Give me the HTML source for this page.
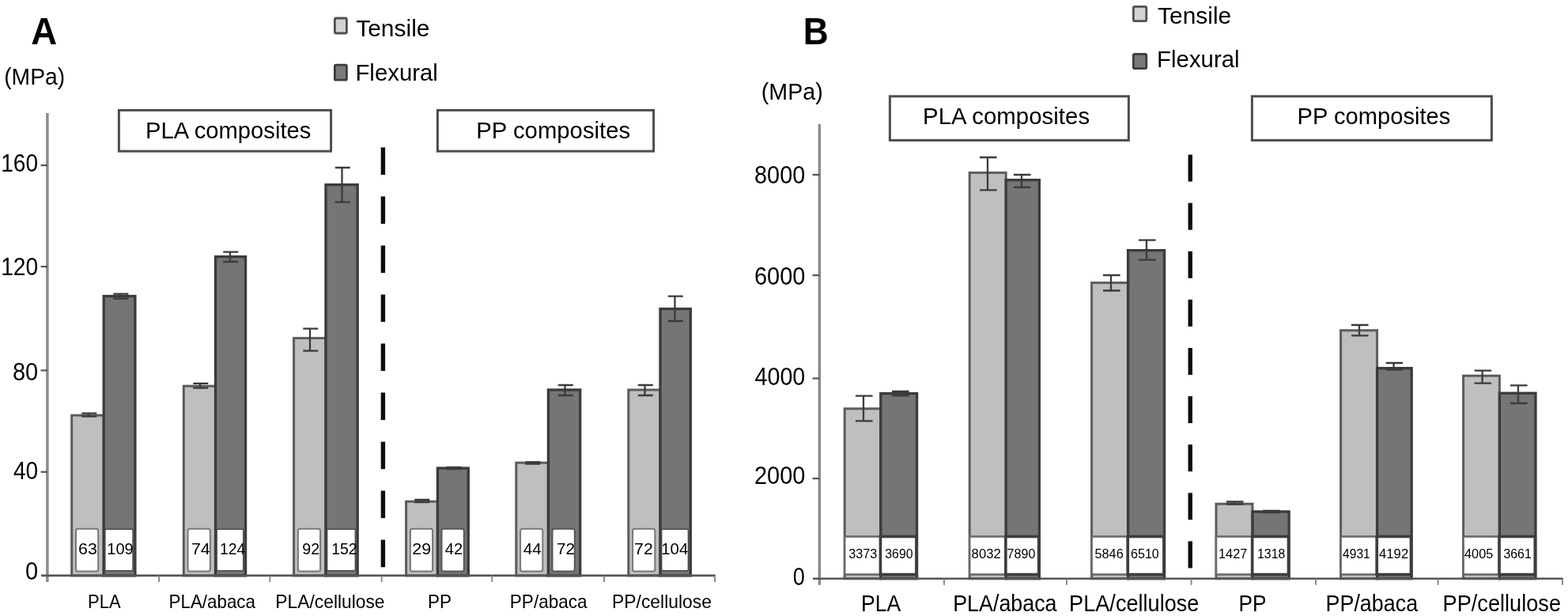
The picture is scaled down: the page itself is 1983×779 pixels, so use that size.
<!DOCTYPE html>
<html lang="en">
<head>
<meta charset="utf-8">
<title>Tensile and flexural properties of PLA and PP composites</title>
<style>
html,body{margin:0;padding:0;background:#fff;}
body{width:1983px;height:779px;overflow:hidden;}
svg{display:block;}
svg text{font-family:"Liberation Sans",Arial,Helvetica,sans-serif;fill:#000;}
</style>
</head>
<body>
<svg width="1983" height="779" viewBox="0 0 1983 779" role="img" aria-label="Bar charts of tensile and flexural strength (A) and modulus (B) in MPa">
<defs><filter id="soft" x="0" y="0" width="1983" height="779" filterUnits="userSpaceOnUse"><feGaussianBlur stdDeviation="0.75"/></filter><filter id="softt" x="0" y="0" width="1983" height="779" filterUnits="userSpaceOnUse"><feGaussianBlur stdDeviation="0.5"/></filter></defs>
<rect x="0" y="0" width="1983" height="779" fill="#fff"/>
<g id="shapes" filter="url(#soft)">
<line x1="59.9" y1="143" x2="59.9" y2="735.9" stroke="#8a8a8a" stroke-width="3.5"/>
<line x1="51.6" y1="596.8" x2="59.9" y2="596.8" stroke="#555555" stroke-width="2.2"/>
<line x1="51.6" y1="468.4" x2="59.9" y2="468.4" stroke="#555555" stroke-width="2.2"/>
<line x1="51.6" y1="337.2" x2="59.9" y2="337.2" stroke="#555555" stroke-width="2.2"/>
<line x1="51.6" y1="209.1" x2="59.9" y2="209.1" stroke="#555555" stroke-width="2.2"/>
<rect x="90.7" y="525.2" width="40.5" height="202.7" fill="#bebfbe" stroke="#5c5c5c" stroke-width="3.0"/>
<rect x="131.2" y="374.5" width="39.7" height="353.4" fill="#747474" stroke="#3a3a3a" stroke-width="3.3"/>
<rect x="96.0" y="668.8" width="28.2" height="53.6" rx="2.5" fill="#fff" stroke="#777" stroke-width="2"/>
<rect x="132.8" y="669.2" width="35.3" height="52.6" rx="1.5" fill="#fff" stroke="#4a4a4a" stroke-width="1.6"/>
<rect x="232.3" y="488.2" width="40.2" height="239.7" fill="#bebfbe" stroke="#5c5c5c" stroke-width="3.0"/>
<rect x="272.5" y="324.6" width="38.1" height="403.3" fill="#747474" stroke="#3a3a3a" stroke-width="3.3"/>
<rect x="237.6" y="668.8" width="28.2" height="53.6" rx="2.5" fill="#fff" stroke="#777" stroke-width="2"/>
<rect x="274.1" y="669.2" width="33.7" height="52.6" rx="1.5" fill="#fff" stroke="#4a4a4a" stroke-width="1.6"/>
<rect x="371.6" y="427.6" width="40.4" height="300.3" fill="#bebfbe" stroke="#5c5c5c" stroke-width="3.0"/>
<rect x="412.0" y="233.6" width="40.2" height="494.3" fill="#747474" stroke="#3a3a3a" stroke-width="3.3"/>
<rect x="376.9" y="668.8" width="28.2" height="53.6" rx="2.5" fill="#fff" stroke="#777" stroke-width="2"/>
<rect x="413.6" y="669.2" width="35.8" height="52.6" rx="1.5" fill="#fff" stroke="#4a4a4a" stroke-width="1.6"/>
<rect x="513.6" y="634.2" width="39.8" height="93.7" fill="#bebfbe" stroke="#5c5c5c" stroke-width="3.0"/>
<rect x="553.4" y="592.0" width="38.9" height="135.9" fill="#747474" stroke="#3a3a3a" stroke-width="3.3"/>
<rect x="518.9" y="668.8" width="28.2" height="53.6" rx="2.5" fill="#fff" stroke="#777" stroke-width="2"/>
<rect x="558.5" y="668.8" width="28.3" height="53.6" rx="2.5" fill="#fff" stroke="#565656" stroke-width="2"/>
<rect x="652.8" y="585.2" width="40.6" height="142.7" fill="#bebfbe" stroke="#5c5c5c" stroke-width="3.0"/>
<rect x="693.4" y="493.0" width="40.3" height="234.9" fill="#747474" stroke="#3a3a3a" stroke-width="3.3"/>
<rect x="658.1" y="668.8" width="28.2" height="53.6" rx="2.5" fill="#fff" stroke="#777" stroke-width="2"/>
<rect x="698.5" y="668.8" width="28.3" height="53.6" rx="2.5" fill="#fff" stroke="#565656" stroke-width="2"/>
<rect x="794.8" y="493.0" width="40.2" height="234.9" fill="#bebfbe" stroke="#5c5c5c" stroke-width="3.0"/>
<rect x="835.0" y="390.6" width="38.3" height="337.3" fill="#747474" stroke="#3a3a3a" stroke-width="3.3"/>
<rect x="800.1" y="668.8" width="28.2" height="53.6" rx="2.5" fill="#fff" stroke="#777" stroke-width="2"/>
<rect x="836.6" y="669.2" width="33.9" height="52.6" rx="1.5" fill="#fff" stroke="#4a4a4a" stroke-width="1.6"/>
<path d="M103.3 522.6H122.3M103.3 526.6H122.3M112 522.6V526.6" stroke="#3a3a3a" stroke-width="2.3" fill="none"/>
<path d="M143.3 371.6H162.3M143.3 377.6H162.3M152 371.6V377.6" stroke="#3a3a3a" stroke-width="2.3" fill="none"/>
<path d="M244.3 484.8H263.3M244.3 490.6H263.3M253 484.8V490.6" stroke="#3a3a3a" stroke-width="2.3" fill="none"/>
<path d="M282.3 318.6H301.3M282.3 331H301.3M291 318.6V331" stroke="#3a3a3a" stroke-width="2.3" fill="none"/>
<path d="M383.3 415.6H402.3M383.3 443.6H402.3M392 415.6V443.6" stroke="#3a3a3a" stroke-width="2.3" fill="none"/>
<path d="M423.8 212H442.8M423.8 255.6H442.8M432.5 212V255.6" stroke="#3a3a3a" stroke-width="2.3" fill="none"/>
<path d="M524.3 632H543.3M524.3 635H543.3M533 632V635" stroke="#3a3a3a" stroke-width="2.3" fill="none"/>
<path d="M564.3 591H583.3M564.3 593H583.3M573 591V593" stroke="#3a3a3a" stroke-width="2.3" fill="none"/>
<path d="M664.3 584.5H683.3M664.3 586.5H683.3M673 584.5V586.5" stroke="#3a3a3a" stroke-width="2.3" fill="none"/>
<path d="M705.8 487H724.8M705.8 500H724.8M714.5 487V500" stroke="#3a3a3a" stroke-width="2.3" fill="none"/>
<path d="M806.8 487H825.8M806.8 500H825.8M815.5 487V500" stroke="#3a3a3a" stroke-width="2.3" fill="none"/>
<path d="M844.8 374.6H863.8M844.8 406H863.8M853.5 374.6V406" stroke="#3a3a3a" stroke-width="2.3" fill="none"/>
<line x1="52" y1="727.9" x2="905" y2="727.9" stroke="#555555" stroke-width="2.6"/>
<line x1="201" y1="727.9" x2="201" y2="735.9" stroke="#8a8a8a" stroke-width="2"/>
<line x1="341.3" y1="727.9" x2="341.3" y2="735.9" stroke="#8a8a8a" stroke-width="2"/>
<line x1="482.7" y1="727.9" x2="482.7" y2="735.9" stroke="#8a8a8a" stroke-width="2"/>
<line x1="622.3" y1="727.9" x2="622.3" y2="735.9" stroke="#8a8a8a" stroke-width="2"/>
<line x1="764" y1="727.9" x2="764" y2="735.9" stroke="#8a8a8a" stroke-width="2"/>
<line x1="904" y1="727.9" x2="904" y2="735.9" stroke="#8a8a8a" stroke-width="2"/>
<rect x="481.7" y="186.4" width="5.4" height="34.6" fill="#0c0c0c"/>
<rect x="481.7" y="248.4" width="5.4" height="34.6" fill="#0c0c0c"/>
<rect x="481.7" y="310.5" width="5.4" height="34.6" fill="#0c0c0c"/>
<rect x="481.7" y="372.5" width="5.4" height="34.6" fill="#0c0c0c"/>
<rect x="481.7" y="434.5" width="5.4" height="34.6" fill="#0c0c0c"/>
<rect x="481.7" y="496.5" width="5.4" height="34.6" fill="#0c0c0c"/>
<rect x="481.7" y="558.6" width="5.4" height="34.6" fill="#0c0c0c"/>
<rect x="481.7" y="620.6" width="5.4" height="34.6" fill="#0c0c0c"/>
<rect x="481.7" y="682.6" width="5.4" height="34.6" fill="#0c0c0c"/>
<rect x="150.4" y="139.4" width="268.2" height="51.8" fill="#fff" stroke="#4e4e4e" stroke-width="3"/>
<rect x="553.4" y="139.4" width="273.2" height="51.8" fill="#fff" stroke="#4e4e4e" stroke-width="3"/>
<rect x="423.4" y="23" width="15" height="19" rx="1.5" fill="#d2d2d2" stroke="#505050" stroke-width="2.8"/>
<rect x="423.4" y="82.2" width="15" height="19" rx="1.5" fill="#7a7a7a" stroke="#3c3c3c" stroke-width="2.8"/>
<line x1="1036.4" y1="157" x2="1036.4" y2="739.8" stroke="#8a8a8a" stroke-width="3.5"/>
<line x1="1027.5" y1="605.1" x2="1036.4" y2="605.1" stroke="#555555" stroke-width="2.2"/>
<line x1="1027.5" y1="478.5" x2="1036.4" y2="478.5" stroke="#555555" stroke-width="2.2"/>
<line x1="1027.5" y1="348.1" x2="1036.4" y2="348.1" stroke="#555555" stroke-width="2.2"/>
<line x1="1027.5" y1="221.0" x2="1036.4" y2="221.0" stroke="#555555" stroke-width="2.2"/>
<rect x="1068.2" y="516.8" width="45.6" height="215.0" fill="#bebfbe" stroke="#5c5c5c" stroke-width="3.0"/>
<rect x="1113.8" y="497.6" width="45.8" height="234.2" fill="#747474" stroke="#3a3a3a" stroke-width="3.3"/>
<rect x="1068.2" y="678.5" width="45.0" height="48" fill="#fff" stroke="#6a6a6a" stroke-width="2.6"/>
<rect x="1113.5" y="678.5" width="45.4" height="48" fill="#fff" stroke="#3c3c3c" stroke-width="3.6"/>
<rect x="1226.2" y="218.4" width="46.0" height="513.4" fill="#bebfbe" stroke="#5c5c5c" stroke-width="3.0"/>
<rect x="1272.2" y="227.6" width="42.2" height="504.2" fill="#747474" stroke="#3a3a3a" stroke-width="3.3"/>
<rect x="1226.2" y="678.5" width="45.4" height="48" fill="#fff" stroke="#6a6a6a" stroke-width="2.6"/>
<rect x="1271.9" y="678.5" width="41.8" height="48" fill="#fff" stroke="#3c3c3c" stroke-width="3.6"/>
<rect x="1380.6" y="357.6" width="46.0" height="374.2" fill="#bebfbe" stroke="#5c5c5c" stroke-width="3.0"/>
<rect x="1426.6" y="316.6" width="46.0" height="415.2" fill="#747474" stroke="#3a3a3a" stroke-width="3.3"/>
<rect x="1380.6" y="678.5" width="45.4" height="48" fill="#fff" stroke="#6a6a6a" stroke-width="2.6"/>
<rect x="1426.3" y="678.5" width="45.6" height="48" fill="#fff" stroke="#3c3c3c" stroke-width="3.6"/>
<rect x="1538.0" y="637.2" width="46.0" height="94.6" fill="#bebfbe" stroke="#5c5c5c" stroke-width="3.0"/>
<rect x="1584.0" y="647.0" width="46.2" height="84.8" fill="#747474" stroke="#3a3a3a" stroke-width="3.3"/>
<rect x="1538.0" y="678.5" width="45.4" height="48" fill="#fff" stroke="#6a6a6a" stroke-width="2.6"/>
<rect x="1583.7" y="678.5" width="45.8" height="48" fill="#fff" stroke="#3c3c3c" stroke-width="3.6"/>
<rect x="1695.6" y="417.8" width="46.0" height="314.0" fill="#bebfbe" stroke="#5c5c5c" stroke-width="3.0"/>
<rect x="1741.6" y="465.6" width="43.6" height="266.2" fill="#747474" stroke="#3a3a3a" stroke-width="3.3"/>
<rect x="1695.6" y="678.5" width="45.4" height="48" fill="#fff" stroke="#6a6a6a" stroke-width="2.6"/>
<rect x="1741.3" y="678.5" width="43.2" height="48" fill="#fff" stroke="#3c3c3c" stroke-width="3.6"/>
<rect x="1850.6" y="475.2" width="45.8" height="256.6" fill="#bebfbe" stroke="#5c5c5c" stroke-width="3.0"/>
<rect x="1896.4" y="497.2" width="45.6" height="234.6" fill="#747474" stroke="#3a3a3a" stroke-width="3.3"/>
<rect x="1850.6" y="678.5" width="45.2" height="48" fill="#fff" stroke="#6a6a6a" stroke-width="2.6"/>
<rect x="1896.1" y="678.5" width="45.2" height="48" fill="#fff" stroke="#3c3c3c" stroke-width="3.6"/>
<path d="M1082.0 500.6H1103.6M1082.0 532.4H1103.6M1092 500.6V532.4" stroke="#3a3a3a" stroke-width="2.3" fill="none"/>
<path d="M1128.0 495H1149.6M1128.0 500.4H1149.6M1138 495V500.4" stroke="#3a3a3a" stroke-width="2.3" fill="none"/>
<path d="M1239.0 199H1260.6M1239.0 240.4H1260.6M1249 199V240.4" stroke="#3a3a3a" stroke-width="2.3" fill="none"/>
<path d="M1282.0 221H1303.6M1282.0 236.8H1303.6M1292 221V236.8" stroke="#3a3a3a" stroke-width="2.3" fill="none"/>
<path d="M1395.0 348H1416.6M1395.0 367.5H1416.6M1405 348V367.5" stroke="#3a3a3a" stroke-width="2.3" fill="none"/>
<path d="M1440.0 303.6H1461.6M1440.0 328.6H1461.6M1450 303.6V328.6" stroke="#3a3a3a" stroke-width="2.3" fill="none"/>
<path d="M1551.0 634.5H1572.6M1551.0 637.5H1572.6M1561 634.5V637.5" stroke="#3a3a3a" stroke-width="2.3" fill="none"/>
<path d="M1597.0 646H1618.6M1597.0 648H1618.6M1607 646V648" stroke="#3a3a3a" stroke-width="2.3" fill="none"/>
<path d="M1709.0 411H1730.6M1709.0 424.4H1730.6M1719 411V424.4" stroke="#3a3a3a" stroke-width="2.3" fill="none"/>
<path d="M1752.6 459H1774.2M1752.6 467.6H1774.2M1762.6 459V467.6" stroke="#3a3a3a" stroke-width="2.3" fill="none"/>
<path d="M1864.6 468.6H1886.2M1864.6 484.6H1886.2M1874.6 468.6V484.6" stroke="#3a3a3a" stroke-width="2.3" fill="none"/>
<path d="M1910.0 487.4H1931.6M1910.0 510H1931.6M1920 487.4V510" stroke="#3a3a3a" stroke-width="2.3" fill="none"/>
<line x1="1028" y1="731.8" x2="1977" y2="731.8" stroke="#555555" stroke-width="2.6"/>
<line x1="1194" y1="731.8" x2="1194" y2="739.8" stroke="#8a8a8a" stroke-width="2"/>
<line x1="1349" y1="731.8" x2="1349" y2="739.8" stroke="#8a8a8a" stroke-width="2"/>
<line x1="1506.6" y1="731.8" x2="1506.6" y2="739.8" stroke="#8a8a8a" stroke-width="2"/>
<line x1="1664" y1="731.8" x2="1664" y2="739.8" stroke="#8a8a8a" stroke-width="2"/>
<line x1="1818.6" y1="731.8" x2="1818.6" y2="739.8" stroke="#8a8a8a" stroke-width="2"/>
<line x1="1976" y1="731.8" x2="1976" y2="739.8" stroke="#8a8a8a" stroke-width="2"/>
<rect x="1502.6" y="195.6" width="5.4" height="34" fill="#0c0c0c"/>
<rect x="1502.6" y="256.7" width="5.4" height="34" fill="#0c0c0c"/>
<rect x="1502.6" y="317.8" width="5.4" height="34" fill="#0c0c0c"/>
<rect x="1502.6" y="378.9" width="5.4" height="34" fill="#0c0c0c"/>
<rect x="1502.6" y="440.0" width="5.4" height="34" fill="#0c0c0c"/>
<rect x="1502.6" y="501.1" width="5.4" height="34" fill="#0c0c0c"/>
<rect x="1502.6" y="562.2" width="5.4" height="34" fill="#0c0c0c"/>
<rect x="1502.6" y="623.3" width="5.4" height="34" fill="#0c0c0c"/>
<rect x="1502.6" y="684.4" width="5.4" height="34" fill="#0c0c0c"/>
<rect x="1125.4" y="121.8" width="302" height="55.6" fill="#fff" stroke="#4e4e4e" stroke-width="3"/>
<rect x="1583.4" y="121.8" width="303" height="55.6" fill="#fff" stroke="#4e4e4e" stroke-width="3"/>
<rect x="1433.4" y="8.4" width="16.4" height="18.2" rx="1.5" fill="#d2d2d2" stroke="#505050" stroke-width="2.8"/>
<rect x="1433.4" y="68.4" width="16.4" height="18.2" rx="1.5" fill="#7a7a7a" stroke="#3c3c3c" stroke-width="2.8"/>
</g>
<g id="labels" filter="url(#softt)">
<text x="32.06" y="733.0" font-size="31" textLength="16.16" lengthAdjust="spacingAndGlyphs">0</text>
<text x="17.00" y="606.4" font-size="31" textLength="31.22" lengthAdjust="spacingAndGlyphs">40</text>
<text x="15.96" y="481.0" font-size="31" textLength="32.26" lengthAdjust="spacingAndGlyphs">80</text>
<text x="1.18" y="347.6" font-size="31" textLength="47.04" lengthAdjust="spacingAndGlyphs">120</text>
<text x="1.29" y="217.0" font-size="31" textLength="46.72" lengthAdjust="spacingAndGlyphs">160</text>
<text x="99.03" y="700.6" font-size="20" textLength="23.80" lengthAdjust="spacingAndGlyphs">63</text>
<text x="135.30" y="700.6" font-size="20" textLength="33.42" lengthAdjust="spacingAndGlyphs">109</text>
<text x="241.93" y="700.6" font-size="20" textLength="23.80" lengthAdjust="spacingAndGlyphs">74</text>
<text x="277.93" y="700.6" font-size="20" textLength="32.49" lengthAdjust="spacingAndGlyphs">124</text>
<text x="382.20" y="700.6" font-size="20" textLength="21.92" lengthAdjust="spacingAndGlyphs">92</text>
<text x="419.13" y="700.6" font-size="20" textLength="32.49" lengthAdjust="spacingAndGlyphs">152</text>
<text x="521.22" y="700.6" font-size="20" textLength="24.01" lengthAdjust="spacingAndGlyphs">29</text>
<text x="562.70" y="700.6" font-size="20" textLength="22.42" lengthAdjust="spacingAndGlyphs">42</text>
<text x="661.70" y="700.6" font-size="20" textLength="22.93" lengthAdjust="spacingAndGlyphs">44</text>
<text x="703.97" y="700.6" font-size="20" textLength="22.96" lengthAdjust="spacingAndGlyphs">72</text>
<text x="802.03" y="700.6" font-size="20" textLength="23.80" lengthAdjust="spacingAndGlyphs">72</text>
<text x="836.28" y="700.6" font-size="20" textLength="34.05" lengthAdjust="spacingAndGlyphs">104</text>
<text x="111.06" y="769.0" font-size="23.4" textLength="41.57" lengthAdjust="spacingAndGlyphs">PLA</text>
<text x="213.54" y="769.0" font-size="23.4" textLength="109.41" lengthAdjust="spacingAndGlyphs">PLA/abaca</text>
<text x="348.32" y="769.0" font-size="23.4" textLength="138.26" lengthAdjust="spacingAndGlyphs">PLA/cellulose</text>
<text x="541.04" y="769.0" font-size="23.4" textLength="29.94" lengthAdjust="spacingAndGlyphs">PP</text>
<text x="644.84" y="769.0" font-size="23.4" textLength="97.81" lengthAdjust="spacingAndGlyphs">PP/abaca</text>
<text x="774.02" y="769.0" font-size="23.4" textLength="125.97" lengthAdjust="spacingAndGlyphs">PP/cellulose</text>
<text x="183.99" y="175" font-size="30.3" textLength="209.35" lengthAdjust="spacingAndGlyphs">PLA composites</text>
<text x="602.27" y="175" font-size="30.3" textLength="194.87" lengthAdjust="spacingAndGlyphs">PP composites</text>
<text x="450.20" y="45.9" font-size="30" textLength="93.28" lengthAdjust="spacingAndGlyphs">Tensile</text>
<text x="449.44" y="102.2" font-size="30" textLength="104.39" lengthAdjust="spacingAndGlyphs">Flexural</text>
<text x="39.25" y="56" font-size="48.2" font-weight="bold" textLength="32.90" lengthAdjust="spacingAndGlyphs">A</text>
<text x="5.16" y="106.8" font-size="30" textLength="76.98" lengthAdjust="spacingAndGlyphs">(MPa)</text>
<text x="1002.73" y="740.0" font-size="31" textLength="15.09" lengthAdjust="spacingAndGlyphs">0</text>
<text x="953.97" y="612.1" font-size="31" textLength="64.36" lengthAdjust="spacingAndGlyphs">2000</text>
<text x="954.50" y="486.9" font-size="31" textLength="63.82" lengthAdjust="spacingAndGlyphs">4000</text>
<text x="953.97" y="359.9" font-size="31" textLength="64.36" lengthAdjust="spacingAndGlyphs">6000</text>
<text x="954.07" y="232.4" font-size="31" textLength="64.15" lengthAdjust="spacingAndGlyphs">8000</text>
<text x="1073.30" y="705.8" font-size="15.8" textLength="36.08" lengthAdjust="spacingAndGlyphs">3373</text>
<text x="1119.30" y="705.8" font-size="15.8" textLength="35.28" lengthAdjust="spacingAndGlyphs">3690</text>
<text x="1228.60" y="705.8" font-size="15.8" textLength="37.23" lengthAdjust="spacingAndGlyphs">8032</text>
<text x="1273.60" y="705.8" font-size="15.8" textLength="35.78" lengthAdjust="spacingAndGlyphs">7890</text>
<text x="1384.40" y="705.8" font-size="15.8" textLength="36.38" lengthAdjust="spacingAndGlyphs">5846</text>
<text x="1430.00" y="705.8" font-size="15.8" textLength="35.78" lengthAdjust="spacingAndGlyphs">6510</text>
<text x="1540.96" y="705.8" font-size="15.8" textLength="36.45" lengthAdjust="spacingAndGlyphs">1427</text>
<text x="1589.99" y="705.8" font-size="15.8" textLength="35.39" lengthAdjust="spacingAndGlyphs">1318</text>
<text x="1698.00" y="705.8" font-size="15.8" textLength="34.79" lengthAdjust="spacingAndGlyphs">4931</text>
<text x="1744.00" y="705.8" font-size="15.8" textLength="37.23" lengthAdjust="spacingAndGlyphs">4192</text>
<text x="1852.00" y="705.8" font-size="15.8" textLength="36.38" lengthAdjust="spacingAndGlyphs">4005</text>
<text x="1901.40" y="705.8" font-size="15.8" textLength="35.38" lengthAdjust="spacingAndGlyphs">3661</text>
<text x="1088.94" y="772.5" font-size="28.6" textLength="50.20" lengthAdjust="spacingAndGlyphs">PLA</text>
<text x="1205.22" y="772.5" font-size="28.6" textLength="131.29" lengthAdjust="spacingAndGlyphs">PLA/abaca</text>
<text x="1352.10" y="772.5" font-size="28.6" textLength="164.35" lengthAdjust="spacingAndGlyphs">PLA/cellulose</text>
<text x="1566.56" y="772.5" font-size="28.6" textLength="35.02" lengthAdjust="spacingAndGlyphs">PP</text>
<text x="1676.52" y="772.5" font-size="28.6" textLength="116.59" lengthAdjust="spacingAndGlyphs">PP/abaca</text>
<text x="1824.50" y="772.5" font-size="28.6" textLength="149.56" lengthAdjust="spacingAndGlyphs">PP/cellulose</text>
<text x="1167.07" y="156.8" font-size="30.3" textLength="211.07" lengthAdjust="spacingAndGlyphs">PLA composites</text>
<text x="1640.48" y="156.8" font-size="30.3" textLength="193.86" lengthAdjust="spacingAndGlyphs">PP composites</text>
<text x="1464.00" y="30.2" font-size="30" textLength="93.28" lengthAdjust="spacingAndGlyphs">Tensile</text>
<text x="1463.04" y="85.2" font-size="30" textLength="104.59" lengthAdjust="spacingAndGlyphs">Flexural</text>
<text x="1015.84" y="56" font-size="48.2" font-weight="bold" textLength="32.02" lengthAdjust="spacingAndGlyphs">B</text>
<text x="962.84" y="125.9" font-size="30" textLength="78.00" lengthAdjust="spacingAndGlyphs">(MPa)</text>
</g>
</svg>
</body>
</html>
